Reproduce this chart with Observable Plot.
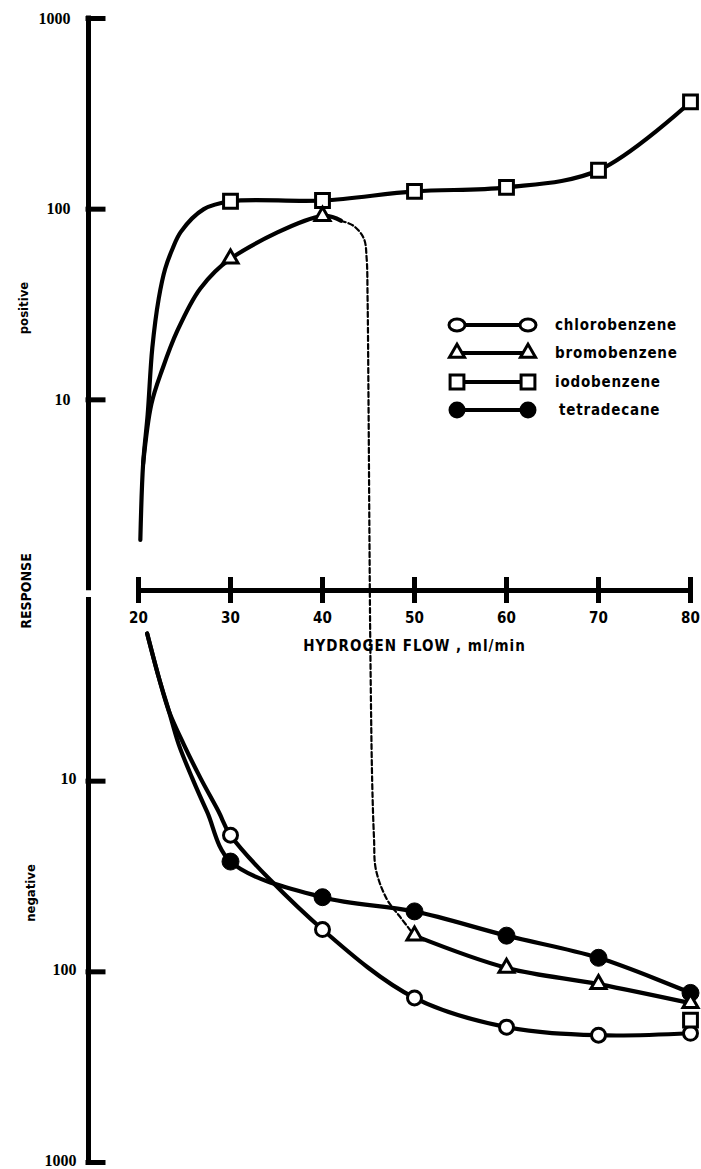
<!DOCTYPE html>
<html><head><meta charset="utf-8">
<script src="https://cdn.jsdelivr.net/npm/d3@7"></script>
<script src="https://cdn.jsdelivr.net/npm/@observablehq/plot@0.6"></script>
<style>
html,body{margin:0;padding:0;background:#fff;}
#chart{position:relative;width:701px;height:1169px;}
</style></head><body><div id="chart"></div>
<script>
// ---------------- data ----------------
const flowTicks = [20, 30, 40, 50, 60, 70, 80];
const responseTicks = [1000, 100, 10];
const flow = [30, 40, 50, 60, 70, 80];

// positive response (upper half)
const iodobenzenePositive = [110, 111, 124, 130, 160, 365];
const bromobenzenePositiveFlow = [30, 40];
const bromobenzenePositive = [55, 92];

// negative response (lower half)
const chlorobenzeneNegative = [19.2, 60, 137, 195, 215, 210];
const tetradecaneNegative = [26.4, 40.6, 48.2, 64.6, 84.4, 129];
const bromobenzeneNegativeFlow = [50, 60, 70, 80];
const bromobenzeneNegative = [64.6, 95.3, 116, 146];
const iodobenzeneNegativeFlow = [80];
const iodobenzeneNegative = [179];

// drawn curve runs without symbols
const iodoRiseFlow = [20.2, 20.5, 21.0, 21.5, 22.2, 22.9, 23.7, 24.6, 27.1];
const iodoRise = [1.84, 4.6, 8.4, 18.7, 34, 48.7, 62, 76, 100];
const bromoRiseFlow = [20.5, 21.4, 22.6, 24.2, 26.7];
const bromoRise = [4.6, 9.5, 14.5, 22.9, 38.3];
const bromoTailFlow = [42.0];
const bromoTail = [87];
const chloroDropFlow = [20.94, 22.2, 23.3, 24.93, 26.74, 28.73];
const chloroDrop = [1.68, 2.85, 4.28, 6.43, 9.64, 14.5];
const tetraDropFlow = [20.94, 22.2, 23.3, 24.38, 25.84, 27.46];
const tetraDrop = [1.68, 2.85, 4.28, 6.43, 9.64, 14.5];
// dashed bromobenzene transition (sign: + positive, - negative response)
const transitionFlow = [42.0, 43.4, 44.5, 44.8, 44.9, 45.0, 45.1, 45.2, 45.4, 45.6, 45.8, 47.0, 48.5, 50];
const transition = [87, 81.6, 70, 55, 34, 10, 2, -2, -10, -20, -29, -41.6, -52, -64.6];

const legendNames = ["chlorobenzene", "bromobenzene", "iodobenzene", "tetradecane"];

// ---------------- build table ----------------
// signed log coordinate: positive responses above the flow axis, negative below
const su = (v, side) => side * Math.log10(Math.abs(v));
const rows = (name, side, xs, vs) => xs.map((x, i) => ({name, x, u: su(vs[i], side)}));

const lines = [
  ...rows("iodo+", 1, [...iodoRiseFlow, ...flow], [...iodoRise, ...iodobenzenePositive]),
  ...rows("bromo+", 1, [...bromoRiseFlow, ...bromobenzenePositiveFlow, ...bromoTailFlow], [...bromoRise, ...bromobenzenePositive, ...bromoTail]),
  ...rows("chloro-", -1, [...chloroDropFlow, ...flow], [...chloroDrop, ...chlorobenzeneNegative]),
  ...rows("tetra-", -1, [...tetraDropFlow, ...flow], [...tetraDrop, ...tetradecaneNegative]),
  ...rows("bromo-", -1, bromobenzeneNegativeFlow, bromobenzeneNegative)
];
const dashed = transitionFlow.map((x, i) => ({x, u: su(transition[i], Math.sign(transition[i]))}));

const squares = [...rows("iodo", 1, flow, iodobenzenePositive), ...rows("iodo", -1, iodobenzeneNegativeFlow, iodobenzeneNegative)];
const triangles = [...rows("bromo", 1, bromobenzenePositiveFlow, bromobenzenePositive), ...rows("bromo", -1, bromobenzeneNegativeFlow, bromobenzeneNegative)];
const openCircles = rows("chloro", -1, flow, chlorobenzeneNegative);
const filledCircles = rows("tetra", -1, flow, tetradecaneNegative);

const tickUpos = responseTicks.map(v => su(v, 1));
const tickUneg = responseTicks.map(v => su(v, -1));
const tickU = [...tickUpos, ...tickUneg];

// ---------------- layout ----------------
const W = 701, H = 1169;
const mL = 88, mR = 11, mT = 18, mB = 7;
const axisGap = 50; // px between response axis and flow = 20
const pxPerUnit = (W - mL - mR - axisGap) / 60;
const x0 = 20 - axisGap / pxPerUnit;
const tickLen = 15 / pxPerUnit;
const pxPerDecade = (H - mT - mB) / 6;
const xTickHalf = 13 / pxPerDecade;

const sans = "'DejaVu Sans Condensed', 'DejaVu Sans', sans-serif";
const serif = "'Liberation Serif', 'DejaVu Serif', serif";
const fmtTick = d => String(Math.round(10 ** Math.abs(d)));

const chart = Plot.plot({
  width: W, height: H,
  marginLeft: mL, marginRight: mR, marginTop: mT, marginBottom: mB,
  x: {domain: [x0, 80], axis: null},
  y: {domain: [-3, 3]},
  marks: [
    // response axis (broken at the flow axis)
    Plot.ruleX([x0], {y1: 3, y2: 0.012, strokeWidth: 5, strokeLinecap: "square"}),
    Plot.ruleX([x0], {y1: -0.05, y2: -3, strokeWidth: 5, strokeLinecap: "square"}),
    Plot.ruleY(tickU, {y: d => d, x1: x0, x2: x0 + tickLen, strokeWidth: 5, strokeLinecap: "square"}),
    Plot.axisY({ticks: tickUpos, tickFormat: fmtTick, tickSize: 0, tickPadding: 18,
      fontSize: 16, fontFamily: serif, fontWeight: "bold", label: null}),
    Plot.axisY({ticks: tickUneg, tickFormat: fmtTick, tickSize: 0, tickPadding: 12, dy: -2,
      fontSize: 16, fontFamily: serif, fontWeight: "bold", label: null}),
    // flow axis
    Plot.ruleY([0], {x1: 20, x2: 80, strokeWidth: 5}),
    Plot.ruleX(flowTicks, {x: d => d, y1: -xTickHalf, y2: xTickHalf, strokeWidth: 5}),
    Plot.text(flowTicks, {x: d => d, y: () => 0, dy: 28, text: d => String(d), fontSize: 15, fontFamily: sans, fontWeight: "bold"}),
    Plot.text(["HYDROGEN FLOW , ml/min"], {x: () => (flowTicks[0] + flowTicks[flowTicks.length - 1]) / 2, y: () => 0, dy: 56, text: d => d,
      fontSize: 15, fontFamily: sans, fontWeight: "bold"}),
    // curves
    Plot.line(dashed, {x: "x", y: "u", curve: "catmull-rom", stroke: "black", strokeWidth: 2.2, strokeDasharray: "5,3"}),
    Plot.line(lines, {x: "x", y: "u", z: "name", curve: "catmull-rom", stroke: "black", strokeWidth: 4.2, strokeLinejoin: "round", strokeLinecap: "round"}),
    // symbols
    Plot.dot(openCircles, {x: "x", y: "u", r: 7, fill: "white", stroke: "black", strokeWidth: 3}),
    Plot.dot(filledCircles, {x: "x", y: "u", r: 8.5, fill: "black", stroke: "black", strokeWidth: 1}),
    Plot.dot(squares, {x: "x", y: "u", symbol: "square", r: 7.8, fill: "white", stroke: "black", strokeWidth: 3}),
    Plot.dot(triangles, {x: "x", y: "u", symbol: "triangle", r: 5.6, fill: "white", stroke: "black", strokeWidth: 3})
  ]
});
document.getElementById("chart").appendChild(chart);

// ---------------- labels & legend ----------------
const svg = d3.select(chart);
svg.selectAll("text").filter(function() { return this.textContent === "HYDROGEN FLOW , ml/min"; })
  .attr("letter-spacing", "1.0");

const side = [
  {t: "positive", x: 24, y: 308, size: 13},
  {t: "RESPONSE", x: 27, y: 591, size: 14},
  {t: "negative", x: 31, y: 893, size: 13}
];
side.forEach(s => svg.append("text")
  .attr("transform", `translate(${s.x},${s.y}) rotate(-90)`)
  .attr("text-anchor", "middle").attr("dominant-baseline", "middle")
  .attr("font-family", sans).attr("font-weight", "bold").attr("font-size", s.size)
  .text(s.t));

const lg = svg.append("g");
const legendY = [325, 353, 382, 410];
const sym = [
  g => g.append("ellipse").attr("rx", 8).attr("ry", 6).attr("fill", "white").attr("stroke", "black").attr("stroke-width", 3),
  g => g.append("path").attr("d", d3.symbol(d3.symbolTriangle, Math.PI * 5.6 * 5.6)()).attr("fill", "white").attr("stroke", "black").attr("stroke-width", 3),
  g => g.append("path").attr("d", d3.symbol(d3.symbolSquare, Math.PI * 7.8 * 7.8)()).attr("fill", "white").attr("stroke", "black").attr("stroke-width", 3),
  g => g.append("circle").attr("r", 8.5).attr("fill", "black")
];
legendNames.forEach((name, i) => {
  const y = legendY[i];
  lg.append("line").attr("x1", 457).attr("x2", 528).attr("y1", y).attr("y2", y).attr("stroke", "black").attr("stroke-width", 4);
  [457, 528].forEach(x => sym[i](lg.append("g").attr("transform", `translate(${x},${y})`)));
  lg.append("text").attr("x", i === 3 ? 559 : 555).attr("y", y).attr("dominant-baseline", "middle")
    .attr("text-anchor", "start")
    .attr("font-family", sans).attr("font-weight", "bold").attr("font-size", 15).attr("letter-spacing", "0.8")
    .text(name);
});
</script></body></html>
